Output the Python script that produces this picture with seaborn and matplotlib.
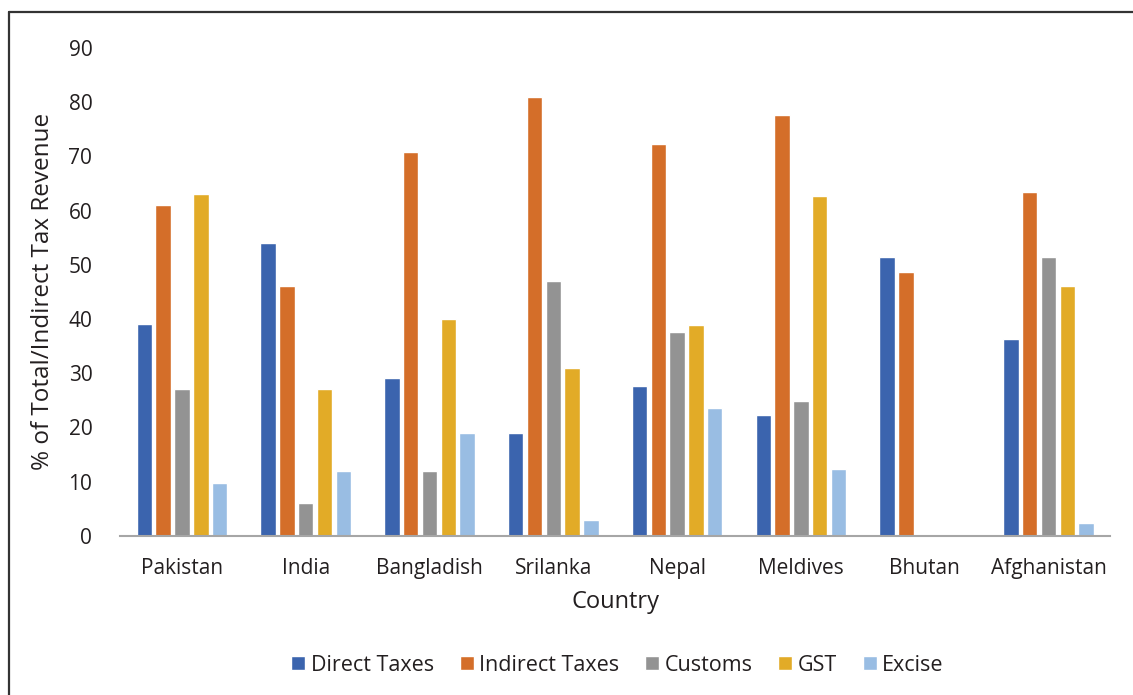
import pandas as pd
import matplotlib.pyplot as plt
from matplotlib.lines import Line2D
import seaborn as sns

# Data
countries = ['Pakistan', 'India', 'Bangladish', 'Srilanka', 'Nepal', 'Meldives', 'Bhutan', 'Afghanistan']
direct_taxes = [39.0, 54.0, 29.2, 19.0, 27.6, 22.3, 51.4, 36.4]
indirect_taxes = [61.0, 46.0, 70.8, 81.0, 72.3, 77.6, 48.6, 63.5]
customs = [27.1, 6.0, 12.0, 47.0, 37.6, 24.8, 0.0, 51.4]
gst = [63.0, 27.0, 40.0, 31.0, 38.9, 62.6, 0.0, 46.1]
excise = [9.8, 12.0, 18.9, 3.0, 23.5, 12.4, 0.0, 2.4]

series_names = ['Direct Taxes', 'Indirect Taxes', 'Customs', 'GST', 'Excise']
colors = ['#3B64AE', '#D46E29', '#939393', '#E2AB27', '#99BDE3']

df = pd.DataFrame({
    'Country': countries,
    'Direct Taxes': direct_taxes,
    'Indirect Taxes': indirect_taxes,
    'Customs': customs,
    'GST': gst,
    'Excise': excise,
})
long_df = df.melt(id_vars='Country', value_vars=series_names, var_name='Series', value_name='Value')

sns.set_theme(style='white')
plt.rcParams['font.family'] = ['Open Sans', 'DejaVu Sans']

fig = plt.figure(figsize=(11.33, 6.95), dpi=100)
ax = fig.add_axes([0.106, 0.229, 0.874, 0.702])

sns.barplot(data=long_df, x='Country', y='Value', hue='Series', hue_order=series_names,
            palette=colors, width=0.76, gap=0.18, saturation=1, ax=ax)

ax.set_ylim(0, 90)
ax.set_yticks(range(0, 91, 10))
ax.tick_params(axis='both', length=0, labelsize=15, colors='#231F20')
ax.tick_params(axis='y', pad=20)
ax.tick_params(axis='x', pad=16)
ax.set_xlabel('Country', fontsize=17, color='#231F20', labelpad=8)
ax.set_ylabel('% of Total/Indirect Tax Revenue', fontsize=17.5, color='#231F20', labelpad=10)

for side in ['top', 'right', 'left']:
    ax.spines[side].set_visible(False)
ax.spines['bottom'].set_color('#A6A6A6')
ax.spines['bottom'].set_linewidth(1.5)

ax.legend(loc='center', bbox_to_anchor=(0.545, 0.043), bbox_transform=fig.transFigure,
          ncol=5, frameon=False, fontsize=15.5, handlelength=0.65, handleheight=0.65,
          handletextpad=0.25, columnspacing=1.2, labelcolor='#231F20')

# outer frame (left and top edges only)
fig.add_artist(Line2D([0.008, 0.008], [0.0, 0.983], transform=fig.transFigure, color='#333333', lw=1.6))
fig.add_artist(Line2D([0.008, 1.0], [0.983, 0.983], transform=fig.transFigure, color='#333333', lw=1.6))

fig.savefig('out.png', dpi=100)
plt.close()
